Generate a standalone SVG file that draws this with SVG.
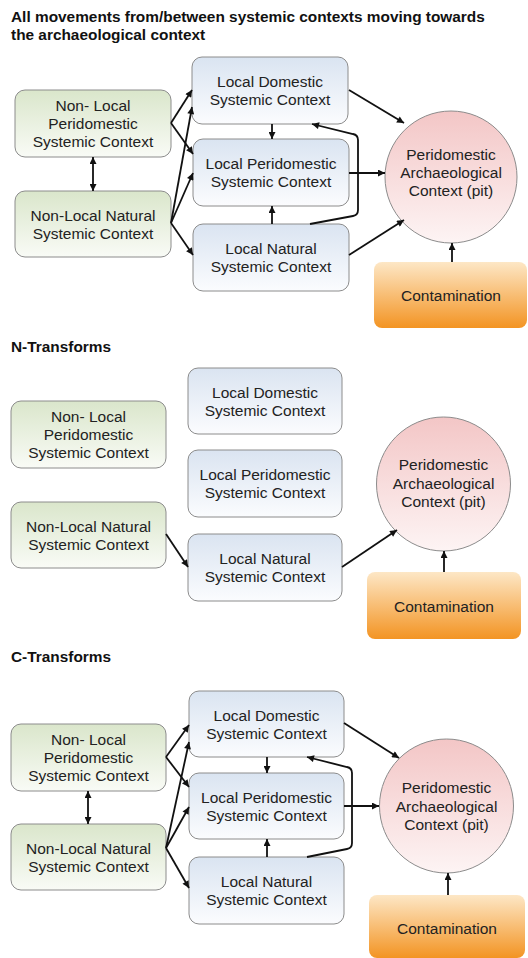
<svg xmlns="http://www.w3.org/2000/svg" width="528" height="958" viewBox="0 0 528 958">
<style>
.t{font-family:"Liberation Sans",Arial,sans-serif;font-size:15.5px;fill:#222;text-anchor:middle}
.h{font-family:"Liberation Sans",Arial,sans-serif;font-size:15.4px;font-weight:bold;fill:#111}
.g{fill:url(#gg);stroke:#8c8c8c;stroke-width:1}
.b{fill:url(#gb);stroke:#8c8c8c;stroke-width:1}
.p{fill:url(#gp);stroke:#8c8c8c;stroke-width:1}
.o{fill:url(#go);stroke:none}
.c{fill:none;stroke:#111;stroke-width:1.8}
.e{marker-end:url(#ah)}
.d{marker-end:url(#ah);marker-start:url(#ah)}
</style>
<defs>
<linearGradient id="gg" x1="0" y1="0" x2="0" y2="1"><stop offset="0" stop-color="#dae6cb"/><stop offset="1" stop-color="#f9fbf6"/></linearGradient>
<linearGradient id="gb" x1="0" y1="0" x2="0" y2="1"><stop offset="0" stop-color="#dae4f1"/><stop offset="1" stop-color="#fbfcfe"/></linearGradient>
<linearGradient id="gp" x1="0" y1="0" x2="0" y2="1"><stop offset="0" stop-color="#f3c6c6"/><stop offset="1" stop-color="#fdf4f4"/></linearGradient>
<linearGradient id="go" x1="0" y1="0" x2="0" y2="1"><stop offset="0" stop-color="#fde7c6"/><stop offset="1" stop-color="#f39423"/></linearGradient>
<marker id="ah" viewBox="0 0 10 10" refX="10" refY="5" markerWidth="9" markerHeight="7" markerUnits="userSpaceOnUse" orient="auto-start-reverse"><path d="M0,0 L10,5 L0,10 z" fill="#111"/></marker>
</defs>

<text class="h" x="11" y="22">All movements from/between systemic contexts moving towards</text>
<text class="h" x="11" y="40">the archaeological context</text>
<text class="h" x="11" y="352">N-Transforms</text>
<text class="h" x="11" y="662">C-Transforms</text>

<!-- Section 1 -->
<g id="s1-nlp"><rect class="g" x="15" y="90" width="156" height="67" rx="10"/><text class="t" x="93" y="111">Non- Local</text><text class="t" x="93" y="129">Peridomestic</text><text class="t" x="93" y="147">Systemic Context</text></g>
<g id="s1-nln"><rect class="g" x="15" y="191" width="156" height="66" rx="10"/><text class="t" x="93" y="220.5">Non-Local Natural</text><text class="t" x="93" y="238.5">Systemic Context</text></g>
<g id="s1-ld"><rect class="b" x="192" y="57" width="156" height="67" rx="10"/><text class="t" x="270" y="87">Local Domestic</text><text class="t" x="270" y="105">Systemic Context</text></g>
<g id="s1-lp"><rect class="b" x="193" y="139" width="156" height="67" rx="10"/><text class="t" x="271" y="169">Local Peridomestic</text><text class="t" x="271" y="187">Systemic Context</text></g>
<g id="s1-ln"><rect class="b" x="193" y="224" width="156" height="67" rx="10"/><text class="t" x="271" y="254">Local Natural</text><text class="t" x="271" y="272">Systemic Context</text></g>
<g id="s1-pac"><circle class="p" cx="451" cy="177" r="66"/><text class="t" x="451" y="159.5">Peridomestic</text><text class="t" x="451" y="177.5">Archaeological</text><text class="t" x="451" y="195.5">Context (pit)</text></g>
<g id="s1-con"><rect class="o" x="374" y="262" width="153" height="66" rx="8"/><text class="t" x="451" y="300.5">Contamination</text></g>

<!-- Section 2 -->
<g id="s2-nlp"><rect class="g" x="11" y="401" width="155" height="67" rx="10"/><text class="t" x="88.5" y="422">Non- Local</text><text class="t" x="88.5" y="440">Peridomestic</text><text class="t" x="88.5" y="458">Systemic Context</text></g>
<g id="s2-nln"><rect class="g" x="11" y="502" width="155" height="66" rx="10"/><text class="t" x="88.5" y="531.5">Non-Local Natural</text><text class="t" x="88.5" y="549.5">Systemic Context</text></g>
<g id="s2-ld"><rect class="b" x="188" y="368" width="154" height="66" rx="10"/><text class="t" x="265" y="397.5">Local Domestic</text><text class="t" x="265" y="415.5">Systemic Context</text></g>
<g id="s2-lp"><rect class="b" x="188" y="450" width="154" height="67" rx="10"/><text class="t" x="265" y="480">Local Peridomestic</text><text class="t" x="265" y="498">Systemic Context</text></g>
<g id="s2-ln"><rect class="b" x="188" y="534" width="154" height="67" rx="10"/><text class="t" x="265" y="564">Local Natural</text><text class="t" x="265" y="582">Systemic Context</text></g>
<g id="s2-pac"><circle class="p" cx="443.5" cy="484" r="67"/><text class="t" x="443.5" y="470">Peridomestic</text><text class="t" x="443.5" y="488.5">Archaeological</text><text class="t" x="443.5" y="507">Context (pit)</text></g>
<g id="s2-con"><rect class="o" x="367" y="572" width="154" height="67" rx="8"/><text class="t" x="444" y="611.5">Contamination</text></g>

<!-- Section 3 -->
<g id="s3-nlp"><rect class="g" x="11" y="724" width="155" height="67" rx="10"/><text class="t" x="88.5" y="745">Non- Local</text><text class="t" x="88.5" y="763">Peridomestic</text><text class="t" x="88.5" y="781">Systemic Context</text></g>
<g id="s3-nln"><rect class="g" x="11" y="824" width="155" height="66" rx="10"/><text class="t" x="88.5" y="853.5">Non-Local Natural</text><text class="t" x="88.5" y="871.5">Systemic Context</text></g>
<g id="s3-ld"><rect class="b" x="189" y="691" width="155" height="66" rx="10"/><text class="t" x="266.5" y="720.5">Local Domestic</text><text class="t" x="266.5" y="738.5">Systemic Context</text></g>
<g id="s3-lp"><rect class="b" x="189" y="773" width="155" height="66" rx="10"/><text class="t" x="266.5" y="802.5">Local Peridomestic</text><text class="t" x="266.5" y="820.5">Systemic Context</text></g>
<g id="s3-ln"><rect class="b" x="189" y="857" width="155" height="67" rx="10"/><text class="t" x="266.5" y="887">Local Natural</text><text class="t" x="266.5" y="905">Systemic Context</text></g>
<g id="s3-pac"><circle class="p" cx="446.5" cy="806" r="67"/><text class="t" x="446.5" y="793">Peridomestic</text><text class="t" x="446.5" y="811.5">Archaeological</text><text class="t" x="446.5" y="830">Context (pit)</text></g>
<g id="s3-con"><rect class="o" x="369" y="895" width="156" height="63" rx="8"/><text class="t" x="447" y="933.5">Contamination</text></g>

<g id="connectors">
<path class="c e" d="M171,123 L192,90"/>
<path class="c e" d="M171,123 L193,154"/>
<path class="c e" d="M171,223 L192,107"/>
<path class="c e" d="M171,223 L193,173"/>
<path class="c e" d="M171,223 L193,255"/>
<path class="c d" d="M93,157 L93,191"/>
<path class="c e" d="M272,124 L272,139"/>
<path class="c e" d="M272,224 L272,206"/>
<path class="c e" d="M310,224 L353,216 Q358,215 358,210 L358,140 Q358,135 353,134 L312,124"/>
<path class="c e" d="M349,90 L404,123"/>
<path class="c e" d="M349,173 L385,173"/>
<path class="c e" d="M349,255 L404,220"/>
<path class="c e" d="M452,262 L452,243"/>

<path class="c e" d="M166,534 L188,567"/>
<path class="c e" d="M342,567 L397,530"/>
<path class="c e" d="M444,572 L444,551"/>

<path class="c e" d="M166,757 L189,725"/>
<path class="c e" d="M166,757 L189,787"/>
<path class="c e" d="M166,848 L189,742"/>
<path class="c e" d="M166,848 L189,807"/>
<path class="c e" d="M166,848 L189,888"/>
<path class="c d" d="M88,791 L88,824"/>
<path class="c e" d="M267,757 L267,773"/>
<path class="c e" d="M267,857 L267,839"/>
<path class="c e" d="M307,857 L347,849 Q352,848 352,843 L352,773 Q352,768 347,767 L307,757"/>
<path class="c e" d="M344,723 L399,758"/>
<path class="c e" d="M344,806 L379,806"/>
<path class="c e" d="M448,895 L448,873"/>
</g>
</svg>
